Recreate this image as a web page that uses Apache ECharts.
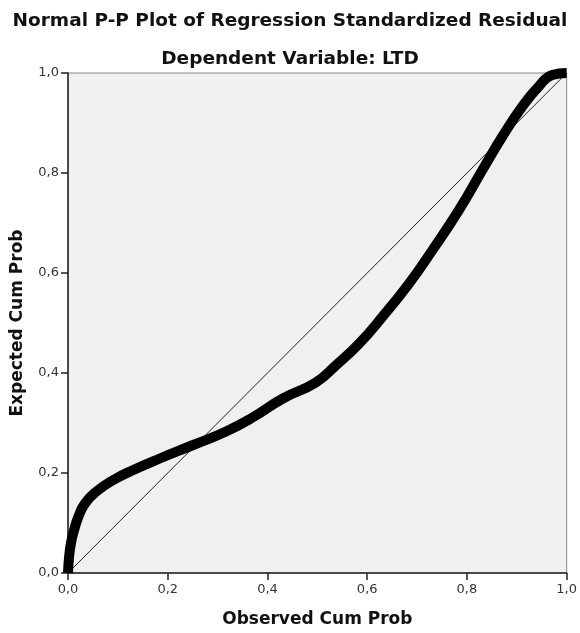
<!DOCTYPE html>
<html>
<head>
<meta charset="utf-8">
<style>
  html, body { margin: 0; padding: 0; background: #fff; }
  #chart { width: 580px; height: 633px; }
</style>
</head>
<body>
<div id="chart"></div>
<script src="https://cdn.jsdelivr.net/npm/echarts@6/dist/echarts.min.js"></script>
<script type="text/javascript">
  // observed vs expected cumulative probability
  var obsProb = [0, 0.002, 0.006, 0.012, 0.021, 0.034, 0.057, 0.091, 0.131, 0.184, 0.251, 0.317, 0.37, 0.431, 0.497, 0.537, 0.584, 0.631, 0.684, 0.731, 0.784, 0.831, 0.871, 0.911, 0.944, 0.971, 1.0];
  var expProb = [0, 0.03, 0.06, 0.085, 0.113, 0.139, 0.163, 0.186, 0.206, 0.229, 0.256, 0.283, 0.311, 0.349, 0.381, 0.415, 0.459, 0.513, 0.579, 0.646, 0.726, 0.806, 0.873, 0.933, 0.973, 0.996, 1.0];
  // reference diagonal
  var refLine = [0, 1];

  var font = 'DejaVu Sans';
  var fmt = function (v) { return v.toFixed(1).replace('.', ','); };

  var curve = [];
  for (var i = 0; i < obsProb.length; i++) {
    curve.push([obsProb[i], expProb[i]]);
  }
  var diag = [[refLine[0], refLine[0]], [refLine[1], refLine[1]]];

  var myChart = echarts.init(document.getElementById('chart'));
  var option = {
    animation: false,
    title: [
      {
        text: 'Normal P-P Plot of Regression Standardized Residual',
        left: 'center', top: 7,
        textStyle: { fontFamily: font, fontSize: 18.5, fontWeight: 'bold', color: '#111' }
      },
      {
        text: 'Dependent Variable: LTD',
        left: 'center', top: 45,
        textStyle: { fontFamily: font, fontSize: 18.5, fontWeight: 'bold', color: '#111' }
      }
    ],
    grid: {
      left: 68, right: 11, top: 73, bottom: 60,
      show: true, backgroundColor: '#f0f0f0', borderColor: '#888', borderWidth: 1
    },
    xAxis: {
      type: 'value', min: 0, max: 1, interval: 0.2,
      name: 'Observed Cum Prob', nameLocation: 'middle', nameGap: 38,
      nameTextStyle: { fontFamily: font, fontSize: 17, fontWeight: 'bold', color: '#111' },
      axisLine: { lineStyle: { color: '#222', width: 1.5 } },
      axisTick: { show: true, length: 7, lineStyle: { color: '#222', width: 1.5 } },
      axisLabel: { fontFamily: font, fontSize: 13, color: '#333', margin: 10, formatter: fmt },
      splitLine: { show: false }
    },
    yAxis: {
      type: 'value', min: 0, max: 1, interval: 0.2,
      name: 'Expected Cum Prob', nameLocation: 'middle', nameGap: 42,
      nameTextStyle: { fontFamily: font, fontSize: 17, fontWeight: 'bold', color: '#111' },
      axisLine: { show: true, lineStyle: { color: '#222', width: 1.5 } },
      axisTick: { show: true, length: 7, lineStyle: { color: '#222', width: 1.5 } },
      axisLabel: { fontFamily: font, fontSize: 13, color: '#333', margin: 9, formatter: fmt },
      splitLine: { show: false }
    },
    series: [
      {
        name: 'diagonal', type: 'line', data: diag,
        symbol: 'none', silent: true,
        lineStyle: { color: '#222', width: 1 }
      },
      {
        name: 'residual', type: 'line', data: curve,
        symbol: 'none', smooth: 0.5, silent: true,
        lineStyle: { color: '#000', width: 10, cap: 'butt', join: 'round' }
      }
    ]
  };
  myChart.setOption(option);
</script>
</body>
</html>
